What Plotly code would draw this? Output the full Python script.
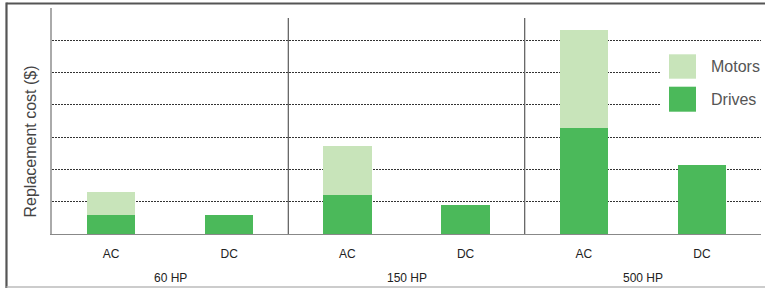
import plotly.graph_objects as go

categories = ["AC", "DC", "AC", "DC", "AC", "DC"]
groups = ["60 HP", "150 HP", "500 HP"]
drives = [0.59, 0.59, 1.21, 0.90, 3.29, 2.14]
motors = [0.71, 0, 1.51, 0, 3.03, 0]
grid_vals = [1, 2, 3, 4, 5, 6]

x = list(range(len(categories)))
LIGHT = "#c8e4ba"
DARK = "#4bb95a"
FONT = "Liberation Sans, Arial, sans-serif"

fig = go.Figure()
fig.add_trace(go.Bar(x=x, y=drives, name="Drives", marker=dict(color=DARK, line=dict(width=0)), width=0.41))
fig.add_trace(go.Bar(x=x, y=motors, name="Motors", marker=dict(color=LIGHT, line=dict(width=0)), width=0.41))

shapes = []
# group separators
for sx in [1.5, 3.5]:
    shapes.append(dict(type="line", xref="x", yref="paper", x0=sx, x1=sx, y0=0, y1=0.956,
                       line=dict(color="#666666", width=1.3)))
# outer frame
shapes.append(dict(type="line", xref="paper", yref="paper", x0=-0.0642, x1=1.01, y0=1.0199, y1=1.0199,
                   line=dict(color="#555555", width=2)))
shapes.append(dict(type="line", xref="paper", yref="paper", x0=-0.0642, x1=-0.0642, y0=1.024, y1=-0.25,
                   line=dict(color="#555555", width=2.2)))
shapes.append(dict(type="line", xref="paper", yref="paper", x0=-0.0642, x1=1.01, y0=-0.2345, y1=-0.2345,
                   line=dict(color="#bbbbbb", width=1.5)))
# legend background and swatches
def px_x(p):
    return (p - 52) / 709.0
def px_y(p):
    return (234 - p) / 226.0
shapes.append(dict(type="rect", xref="paper", yref="paper", x0=px_x(661), x1=px_x(766), y0=px_y(48), y1=px_y(118),
                   fillcolor="white", line=dict(width=0), layer="above"))
shapes.append(dict(type="rect", xref="paper", yref="paper", x0=px_x(669), x1=px_x(696), y0=px_y(54.3), y1=px_y(78.7),
                   fillcolor=LIGHT, line=dict(width=0), layer="above"))
shapes.append(dict(type="rect", xref="paper", yref="paper", x0=px_x(669), x1=px_x(696), y0=px_y(86.7), y1=px_y(111.7),
                   fillcolor=DARK, line=dict(width=0), layer="above"))

annotations = []
for i, g in enumerate(groups):
    annotations.append(dict(text=g, x=2 * i + 0.5, xref="x", y=px_y(277.7), yref="paper",
                            showarrow=False, font=dict(size=12, color="#222222", family=FONT),
                            xanchor="center", yanchor="middle"))
annotations.append(dict(text="Replacement cost ($)", textangle=-90, x=px_x(30), xref="paper",
                        y=px_y(141.5), yref="paper", showarrow=False,
                        font=dict(size=16, color="#444444", family=FONT), xanchor="center", yanchor="middle"))
for name, yc in [("Motors", 66.5), ("Drives", 99.2)]:
    annotations.append(dict(text=name, x=px_x(709), xref="paper", y=px_y(yc), yref="paper",
                            showarrow=False, font=dict(size=16, color="#555555", family=FONT),
                            xanchor="left", yanchor="middle"))

fig.update_layout(
    width=765, height=288,
    margin=dict(l=52, r=4, t=8, b=54),
    barmode="stack",
    showlegend=False,
    hovermode=False,
    plot_bgcolor="white", paper_bgcolor="white",
    font=dict(family=FONT, size=12, color="#222222"),
    xaxis=dict(range=[-0.5, 5.5], tickvals=x, ticktext=categories, showgrid=False, zeroline=False,
               showline=True, linecolor="#888888", linewidth=1.2,
               ticks="outside", ticklen=8, tickcolor="rgba(0,0,0,0)",
               tickfont=dict(size=12, color="#222222", family=FONT)),
    yaxis=dict(range=[0, 7], tickvals=grid_vals, showticklabels=False, showgrid=True,
               gridcolor="#333333", gridwidth=1, griddash="2px,1px", zeroline=False,
               showline=True, linecolor="#aaaaaa", linewidth=1.5, ticks=""),
    shapes=shapes,
    annotations=annotations,
)

fig.write_html("out.html", config={"displayModeBar": False},
               post_script="document.body.style.margin='0';document.body.style.overflow='hidden';")
